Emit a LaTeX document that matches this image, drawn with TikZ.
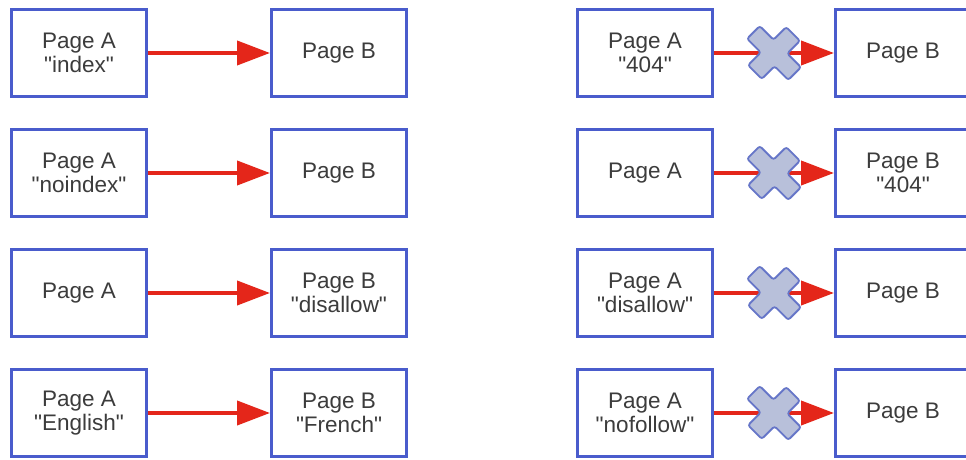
\documentclass[tikz,border=0pt]{standalone}
\usepackage{fontspec}
\setmainfont{Liberation Sans}[Ligatures=TeXOff]
\usetikzlibrary{arrows.meta}
\definecolor{boxblue}{HTML}{4A5CCC}
\definecolor{txtgray}{HTML}{3C3C3C}
\definecolor{arrred}{HTML}{E4261A}
\definecolor{xfill}{HTML}{B8C0DA}
\definecolor{xdraw}{HTML}{6676C8}
\tikzset{
  pagebox/.style={draw=boxblue, line width=3pt, fill=white, minimum width=135pt, minimum height=87pt,
    align=center, text=txtgray, font=\fontsize{22.5pt}{24.5pt}\selectfont, inner sep=0pt},
  link/.style={draw=arrred, line width=4pt, -{Triangle[length=33pt,width=24pt]}},
  blockx/.pic={
    \filldraw[fill=xfill, draw=xdraw, line width=1.8pt, rounded corners=2.5pt, rotate=45, yscale=1.08]
      (-9,27) -- (9,27) -- (9,9) -- (27,9) -- (27,-9) -- (9,-9)
      -- (9,-27) -- (-9,-27) -- (-9,-9) -- (-27,-9) -- (-27,9) -- (-9,9) -- cycle;
  }
}
\begin{document}
\begin{tikzpicture}[x=1pt,y=-1pt]
\useasboundingbox (0,0) rectangle (966,460);
\clip (0,0) rectangle (966,460);
\fill[white] (0,0) rectangle (966,460);
% left column
\node[pagebox] (la1) at (79,53) {Page A\\"index"};
\node[pagebox] (lb1) at (339,53) {Page B};
\node[pagebox] (la2) at (79,173) {Page A\\"noindex"};
\node[pagebox] (lb2) at (339,173) {Page B};
\node[pagebox] (la3) at (79,293) {Page A};
\node[pagebox] (lb3) at (339,293) {Page B\\"disallow"};
\node[pagebox] (la4) at (79,413) {Page A\\"English"};
\node[pagebox] (lb4) at (339,413) {Page B\\"French"};
% right column
\node[pagebox] (ra1) at (645,53) {Page A\\"404"};
\node[pagebox] (rb1) at (903,53) {Page B};
\node[pagebox] (ra2) at (645,173) {Page A};
\node[pagebox] (rb2) at (903,173) {Page B\\"404"};
\node[pagebox] (ra3) at (645,293) {Page A\\"disallow"};
\node[pagebox] (rb3) at (903,293) {Page B};
\node[pagebox] (ra4) at (645,413) {Page A\\"nofollow"};
\node[pagebox] (rb4) at (903,413) {Page B};
% arrows
\foreach \i in {1,2,3,4}{
  \draw[link] (la\i) -- (lb\i);
  \draw[link] (ra\i) -- coordinate[pos=0.5] (x\i) (rb\i);
  \pic at (x\i) {blockx};
}
\end{tikzpicture}
\end{document}
